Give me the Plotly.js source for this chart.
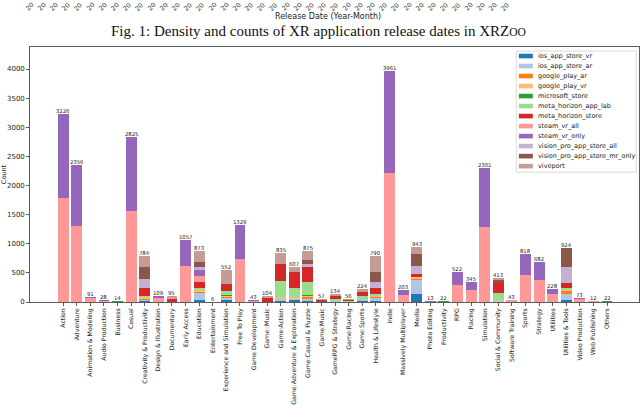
<!DOCTYPE html>
<html><head><meta charset="utf-8">
<script src="https://cdn.plot.ly/plotly-3.0.1.min.js"></script>
<style>html,body{margin:0;padding:0;background:#fff}#chart{width:640px;height:407px}</style>
</head><body><div id="chart"></div>
<script>
// ---------- data ----------
const categories = ["Action","Adventure","Animation & Modeling","Audio Production","Business","Casual",
"Creativity & Productivity","Design & Illustration","Documentary","Early Access","Education","Entertainment",
"Experience and Simulation","Free To Play","Game Development","Game::Music","Game:Action",
"Game:Adventure & Exploration","Game:Casual & Puzzle","Game:Music","GameRPG & Strategy","Game:Racing",
"Game:Sports","Health & Lifestyle","Indie","Massively Multiplayer","Media","Photo Editing","Productivity",
"RPG","Racing","Simulation","Social & Community","Software Training","Sports","Strategy","Utilities",
"Utilities & Tools","Video Production","Web Publishing","Others"];

const ios_app_store_vr        = [0,0,0,0,0,0,10,0,0,0,40,0,30,0,0,5,20,30,15,0,5,0,15,20,0,0,132,0,0,0,0,0,0,0,0,0,0,29,0,4,0];
const ios_app_store_ar        = [0,0,0,0,0,0,25,0,0,0,110,0,45,0,0,0,25,20,45,0,10,0,30,50,0,0,241,0,0,0,0,0,10,0,0,0,0,115,0,0,0];
const google_play_ar          = [0,0,0,0,0,0,25,0,0,0,30,0,15,0,0,0,10,10,20,0,0,0,0,10,0,0,20,0,0,0,0,0,0,0,0,0,0,40,0,0,0];
const google_play_vr          = [0,0,0,0,0,0,20,0,0,0,27,0,20,0,0,0,25,20,30,0,10,0,10,24,0,0,37,0,0,0,0,0,25,0,0,0,0,29,0,0,0];
const microsoft_store         = [0,0,0,0,10,0,5,0,0,0,5,0,5,0,0,0,6,6,5,0,0,0,0,5,0,0,0,0,22,0,0,0,0,0,0,0,0,0,0,0,22];
const meta_horizon_app_lab    = [0,0,0,0,0,0,15,0,0,0,30,0,74,0,0,0,270,161,229,0,30,20,50,35,0,0,0,0,0,0,0,0,120,0,0,0,0,34,0,0,0];
const meta_horizon_store      = [0,0,0,0,0,0,135,0,45,0,100,0,115,0,0,60,304,268,257,10,45,20,60,97,0,0,46,0,0,0,0,0,180,0,0,0,0,80,0,0,0];
const steam_vr_all            = [1785,1306,62,20,4,1564,5,75,20,619,110,6,0,733,18,10,0,0,0,0,0,0,0,0,2210,125,0,8,0,287,213,1289,0,30,459,373,135,0,45,8,0];
const steam_vr_only           = [1441,1050,29,8,0,1261,0,26,0,438,100,0,0,596,25,0,0,0,0,10,0,0,0,0,1751,78,0,5,0,235,132,1012,0,13,359,309,93,0,28,0,0];
const vision_pro_app_store_all     = [0,0,0,0,0,0,155,8,0,0,50,0,0,0,0,0,0,0,47,0,0,0,0,103,0,0,143,0,0,0,0,0,0,0,0,0,0,274,0,0,0];
const vision_pro_app_store_mr_only = [0,0,0,0,0,0,205,0,0,0,80,0,0,0,0,0,0,0,68,22,0,0,0,172,0,0,201,0,0,0,0,0,38,0,0,0,0,318,0,0,0];
const viveport                = [0,0,0,0,0,0,184,0,30,0,191,0,248,0,0,29,175,92,159,15,34,16,59,274,0,0,123,0,0,0,0,0,40,0,0,0,0,5,0,0,0];

const seriesNames = ["ios_app_store_vr","ios_app_store_ar","google_play_ar","google_play_vr","microsoft_store",
"meta_horizon_app_lab","meta_horizon_store","steam_vr_all","steam_vr_only","vision_pro_app_store_all",
"vision_pro_app_store_mr_only","viveport"];
const seriesValues = [ios_app_store_vr,ios_app_store_ar,google_play_ar,google_play_vr,microsoft_store,
meta_horizon_app_lab,meta_horizon_store,steam_vr_all,steam_vr_only,vision_pro_app_store_all,
vision_pro_app_store_mr_only,viveport];

// visible lower ends of the date tick labels of the figure above
const releaseTickStubs = ["20","20","20","20","20","20","20","20","20","20","20","20","20","20","20","20","20","20","20","20",
"20","20","20","20","20","20","20","20","20","20","20","20","20","20","20","20","20","20","20","20"];

const captionText = "Fig. 1: Density and counts of XR application release dates in XRZ<span style='font-size:11.5px'>OO</span>";
const releaseAxisTitle = "Release Date (Year-Month)";
const yTitle = "Count";

// ---------- styles ----------
const colors = ["#1f77b4","#aec7e8","#ff7f0e","#ffbb78","#2ca02c","#98df8a","#d62728","#ff9896","#9467bd","#c5b0d5","#8c564b","#c49c94"];
const W = 640, H = 407, ML = 29.5, MR = 1.3, MT = 47, MB = 105.3;
const PW = W - ML - MR, PH = H - MT - MB;
const px = x => (x - ML) / PW;
const py = y => (H - MB - y) / PH;
const sans = "DejaVu Sans, sans-serif";
const ink = "#1a1a1a";

const traces = seriesNames.map((n, k) => ({
  type: "bar", name: n, x: categories, y: seriesValues[k], width: 0.8,
  marker: {color: colors[k], line: {width: 0}}, showlegend: false, hoverinfo: "skip"
}));

const totals = categories.map((c, i) => seriesValues.reduce((s, arr) => s + arr[i], 0));

const annotations = [];
categories.forEach((c, i) => annotations.push({
  x: c, y: totals[i], xref: "x", yref: "y", text: String(totals[i]), showarrow: false,
  yanchor: "bottom", yshift: -2, font: {family: sans, size: 5.3, color: ink}
}));

// compact legend
const shapes = [{
  type: "rect", xref: "paper", yref: "paper", x0: px(516), x1: px(636), y0: py(172), y1: py(51),
  fillcolor: "rgba(255,255,255,0.85)", line: {color: "#d0d0d0", width: 0.8}
}];
seriesNames.forEach((n, k) => {
  const yc = 56 + 10 * k;
  shapes.push({type: "rect", xref: "paper", yref: "paper", x0: px(518.5), x1: px(532.5),
    y0: py(yc + 2.3), y1: py(yc - 2.3), fillcolor: colors[k], line: {width: 0}});
  annotations.push({xref: "paper", yref: "paper", x: px(536), y: py(yc), xanchor: "left", yanchor: "middle",
    text: n, showarrow: false, font: {family: sans, size: 6.5, color: ink}});
});

// header region
releaseTickStubs.forEach((m, j) => annotations.push({
  xref: "paper", yref: "paper", x: px(22 + j * 12.2), y: py(0), xanchor: "left", yanchor: "top",
  text: m, textangle: -45, showarrow: false, borderpad: 0, font: {family: sans, size: 6.5, color: "#333"}
}));
annotations.push({xref: "paper", yref: "paper", x: px(328), y: py(16.3), xanchor: "center", yanchor: "middle",
  text: releaseAxisTitle, showarrow: false, font: {family: sans, size: 8, color: "#222"}});
annotations.push({xref: "paper", yref: "paper", x: px(318), y: py(31.5), xanchor: "center", yanchor: "middle",
  text: captionText, showarrow: false, font: {family: "Liberation Serif, Times New Roman, serif", size: 15, color: "#111"}});

const layout = {
  width: W, height: H, barmode: "stack", bargap: 0.2,
  margin: {l: ML, r: MR, t: MT, b: MB, pad: 0},
  paper_bgcolor: "#fff", plot_bgcolor: "#fff",
  xaxis: {type: "category", range: [-2.44, 42.35], tickangle: -90, ticks: "outside", ticklen: 3,
    tickcolor: "#333", tickwidth: 0.8, showline: true, linecolor: "#333", linewidth: 0.8, mirror: true,
    showgrid: false, zeroline: false, automargin: false,
    tickfont: {family: sans, size: 6.2, color: ink}},
  yaxis: {range: [0, 4378], tick0: 0, dtick: 500, ticks: "outside", ticklen: 3, tickcolor: "#333",
    tickwidth: 0.8, showline: true, linecolor: "#333", linewidth: 0.8, mirror: true,
    showgrid: false, zeroline: false, automargin: false,
    tickfont: {family: sans, size: 7, color: ink},
    title: {text: yTitle, font: {family: sans, size: 6.5, color: ink}, standoff: 3}},
  showlegend: false, annotations: annotations, shapes: shapes
};

Plotly.newPlot("chart", traces, layout, {staticPlot: true, displayModeBar: false});
</script></body></html>
